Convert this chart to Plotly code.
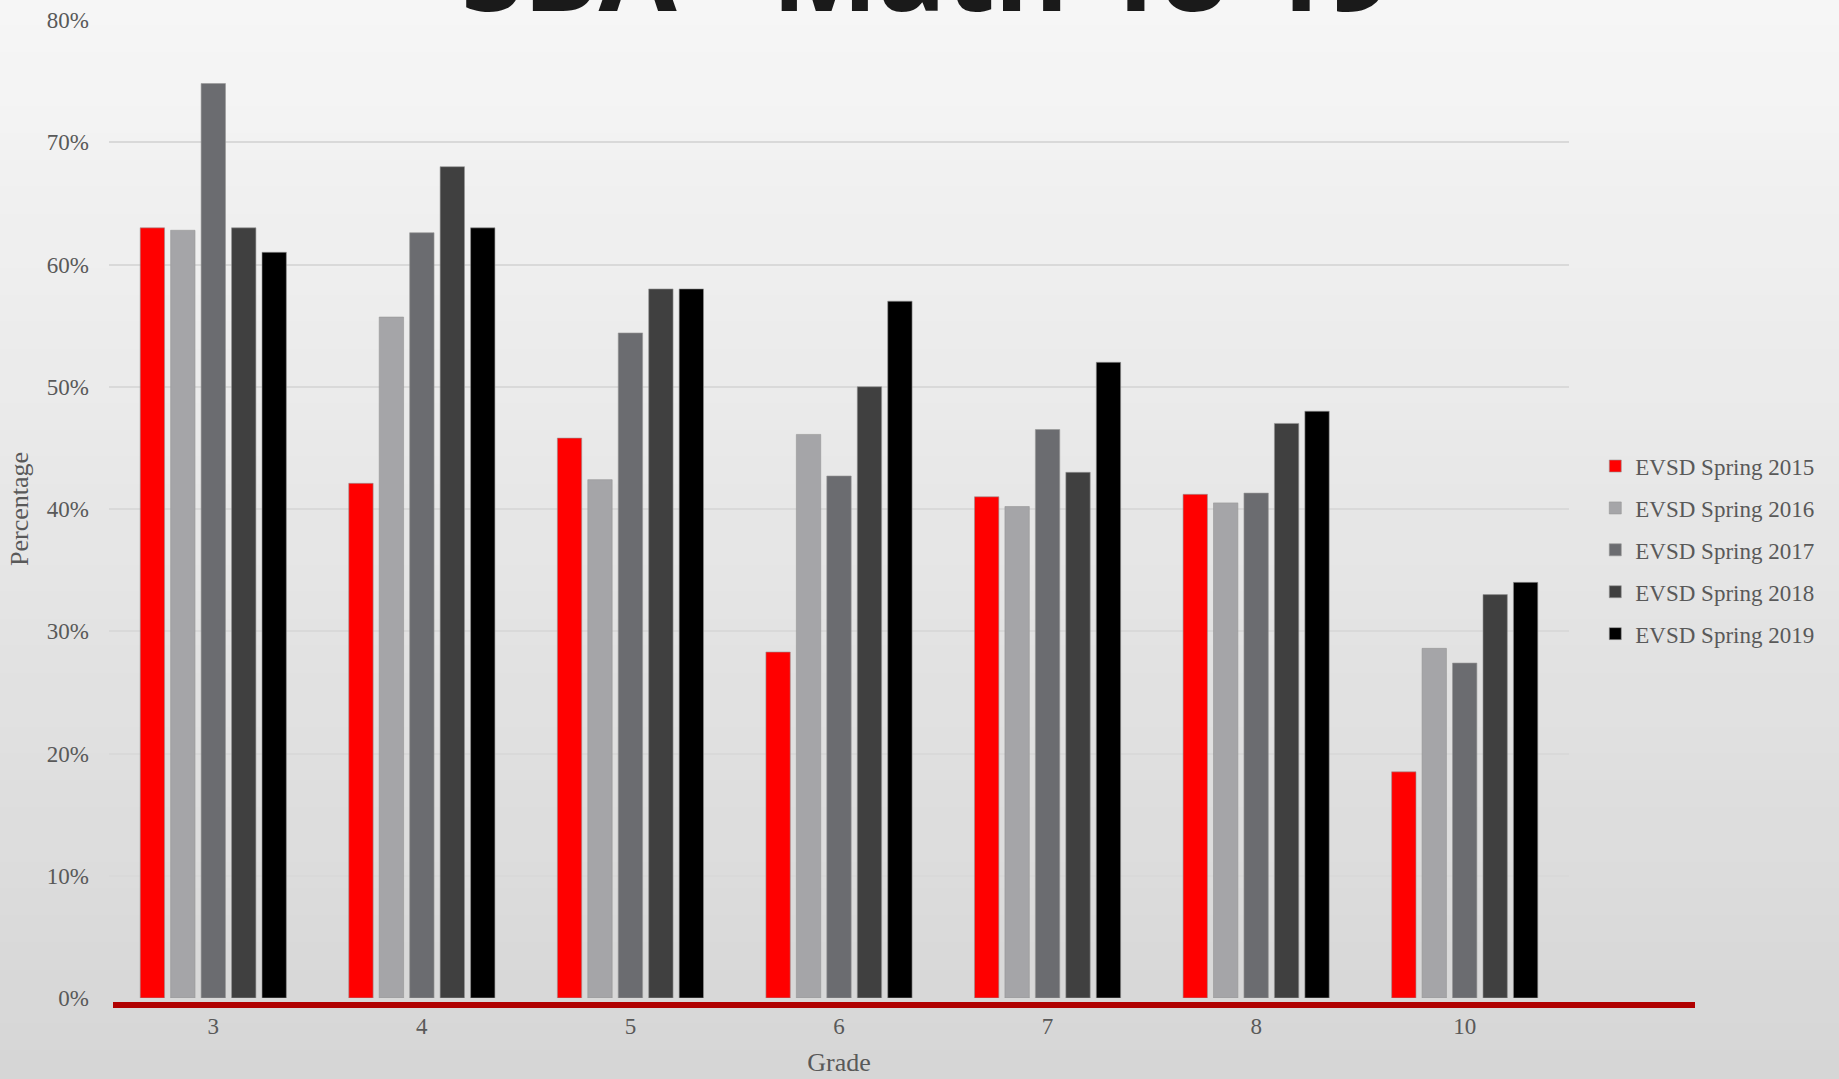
import plotly.graph_objects as go

grades = ["3", "4", "5", "6", "7", "8", "10"]
series_names = ["EVSD Spring 2015", "EVSD Spring 2016", "EVSD Spring 2017",
                "EVSD Spring 2018", "EVSD Spring 2019"]
spring_2015 = [63, 42.1, 45.8, 28.3, 41, 41.2, 18.5]
spring_2016 = [62.8, 55.7, 42.4, 46.1, 40.2, 40.5, 28.6]
spring_2017 = [74.8, 62.6, 54.4, 42.7, 46.5, 41.3, 27.4]
spring_2018 = [63, 68, 58, 50, 43, 47, 33]
spring_2019 = [61, 63, 58, 57, 52, 48, 34]
y_ticks = [0, 10, 20, 30, 40, 50, 60, 70, 80]
y_tick_labels = ["0%", "10%", "20%", "30%", "40%", "50%", "60%", "70%", "80%"]

colors = ["#FF0000", "#A5A5A8", "#6B6C70", "#404040", "#000000"]
values = [spring_2015, spring_2016, spring_2017, spring_2018, spring_2019]

FONT = "Liberation Serif"
TXT = "#595959"

fig = go.Figure()
for i, (name, vals) in enumerate(zip(series_names, values)):
    fig.add_trace(go.Bar(
        x=grades, y=vals, name=name, legendgroup=name,
        marker=dict(color=colors[i], line=dict(color="rgba(150,150,150,0.6)", width=1)),
    ))

# background gradient bands
shapes = []
n = 40
top = (246, 246, 246)
bot = (214, 214, 214)
y_lo, y_hi = -81 / 978, 1 + 20 / 978
x_lo, x_hi = -109 / 1460, 1 + 270 / 1460
for k in range(n):
    t = k / (n - 1)
    c = tuple(int(round(top[j] + (bot[j] - top[j]) * t)) for j in range(3))
    y1 = y_hi - (y_hi - y_lo) * k / n
    y0 = y_hi - (y_hi - y_lo) * (k + 1) / n
    shapes.append(dict(type="rect", xref="paper", yref="paper", x0=x_lo, x1=x_hi,
                       y0=y0 - 0.002, y1=y1 + 0.002, fillcolor="rgb(%d,%d,%d)" % c,
                       line=dict(width=0), layer="below"))
# red baseline
shapes.append(dict(type="line", xref="paper", yref="paper", x0=4 / 1460, x1=1586 / 1460,
                   y0=-7 / 978, y1=-7 / 978, line=dict(color="#B00000", width=6)))

fig.update_layout(
    width=1839, height=1079,
    margin=dict(l=109, r=270, t=20, b=81, autoexpand=False),
    paper_bgcolor="#e8e8e8", plot_bgcolor="rgba(0,0,0,0)",
    barmode="group", bargap=0.27, bargroupgap=0.2,
    font=dict(family=FONT, color=TXT, size=24),
    shapes=shapes,
    showlegend=True,
    legend=dict(x=1.018, y=0.458, xanchor="left", yanchor="middle",
                font=dict(family=FONT, size=23, color=TXT),
                tracegroupgap=9, bgcolor="rgba(0,0,0,0)"),
    xaxis=dict(title=dict(text="Grade", font=dict(family=FONT, size=26, color=TXT), standoff=14),
               tickfont=dict(family=FONT, size=23, color=TXT), automargin=False,
               showgrid=False, showline=False, zeroline=False, ticks="",
               ticklabelstandoff=12),
    yaxis=dict(title=dict(text="Percentage", font=dict(family=FONT, size=26, color=TXT), standoff=10),
               range=[0, 80], tickmode="array", tickvals=y_ticks, ticktext=y_tick_labels,
               tickfont=dict(family=FONT, size=23, color=TXT), automargin=False,
               showgrid=True, gridcolor="#d9d9d9", gridwidth=2,
               zeroline=False, showline=False, ticks="", ticklabelstandoff=19),
    annotations=[dict(text="<b>SBA - Math 18-19</b>", xref="paper", yref="paper",
                      x=0.56, y=1.054, yanchor="middle", showarrow=False,
                      font=dict(family="Noto Sans", size=113, color="#1a1a1a"))],
)

fig.write_html("out.html", config={"displayModeBar": False},
               post_script="document.body.style.margin='0';document.body.style.overflow='hidden';")
